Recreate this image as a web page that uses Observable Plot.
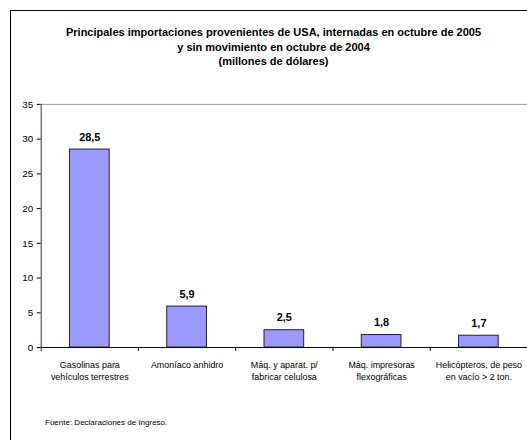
<!DOCTYPE html>
<html>
<head>
<meta charset="utf-8">
<script src="https://cdn.jsdelivr.net/npm/d3@7"></script>
<script src="https://cdn.jsdelivr.net/npm/@observablehq/plot@0.6"></script>
<style>
  html, body { margin: 0; padding: 0; background: #fff; overflow: hidden; width: 527px; height: 440px; }
  body { position: relative; font-family: "Liberation Sans", Arial, sans-serif; }
  #frame { position: absolute; left: 10px; top: 10px; width: 560px; height: 460px; border-left: 1px solid #000; border-top: 1px solid #000; }
  #title { position: absolute; left: 0; top: 25px; width: 547px; text-align: center; font-weight: bold; font-size: 11px; line-height: 14.5px; color: #000; }
  #chart { position: absolute; left: 0; top: 90px; }
  #caption { position: absolute; left: 45px; top: 418px; font-size: 8px; color: #000; }
</style>
</head>
<body>
<div id="frame"></div>
<div id="title">Principales importaciones provenientes de USA, internadas en octubre de 2005<br>y sin movimiento en octubre de 2004<br>(millones de dólares)</div>
<div id="chart"></div>
<div id="caption">Fuente: Declaraciones de Ingreso.</div>
<script>
const categories = [
  "Gasolinas para\nvehículos terrestres",
  "Amoníaco anhidro",
  "Máq. y aparat. p/\nfabricar celulosa",
  "Máq. impresoras\nflexográficas",
  "Helicópteros, de peso\nen vacío > 2 ton."
];
const values = [28.5, 5.9, 2.5, 1.8, 1.7];
const yTicks = [0, 5, 10, 15, 20, 25, 30, 35];

const data = categories.map((c, i) => ({cat: c, value: values[i]}));
const fmt = v => v.toFixed(1).replace(".", ",");

// y-axis line and category separator ticks, positioned via the scales
function axisLines(index, scales, values, dimensions) {
  const x = scales.x, y = scales.y;
  const step = x(categories[1]) - x(categories[0]);
  const left = dimensions.marginLeft;
  const y0 = y(0);
  const g = d3.create("svg:g").attr("stroke", "#000").attr("stroke-width", 1);
  g.append("line").attr("x1", left + 0.5).attr("x2", left + 0.5)
    .attr("y1", y(35)).attr("y2", y0 + 4).attr("stroke", "#333");
  for (let k = 1; k <= categories.length; k++) {
    const xs = Math.round(left + k * step) + 0.5;
    g.append("line").attr("x1", xs).attr("x2", xs).attr("y1", y0).attr("y2", y0 + 4);
  }
  return g.node();
}

const chart = Plot.plot({
  width: 531,
  height: 300,
  marginLeft: 41,
  marginRight: 0,
  marginTop: 14,
  marginBottom: 41,
  style: {fontFamily: "'Liberation Sans', Arial, sans-serif", background: "transparent", color: "#000"},
  x: {domain: categories, paddingInner: 0.59, paddingOuter: 0.295, label: null},
  y: {domain: [0, 35], label: null},
  marks: [
    Plot.ruleY([35], {stroke: "#999", strokeWidth: 1}),
    Plot.barY(data, {x: "cat", y: "value", fill: "#9999ff", stroke: "#222", strokeWidth: 1}),
    Plot.text(data, {x: "cat", y: "value", text: d => fmt(d.value), dy: -9, lineAnchor: "bottom", fontWeight: "bold", fontSize: 11, fill: "#000"}),
    Plot.ruleY([0], {stroke: "#000", strokeWidth: 1}),
    Plot.axisY({ticks: yTicks, tickSize: 4, tickPadding: 4, fontSize: 10, stroke: "#000", label: null}),
    Plot.axisX({tickSize: 0, tickPadding: 12, fontSize: 9, lineHeight: 1.35, label: null}),
    axisLines
  ]
});
document.getElementById("chart").appendChild(chart);
</script>
</body>
</html>
